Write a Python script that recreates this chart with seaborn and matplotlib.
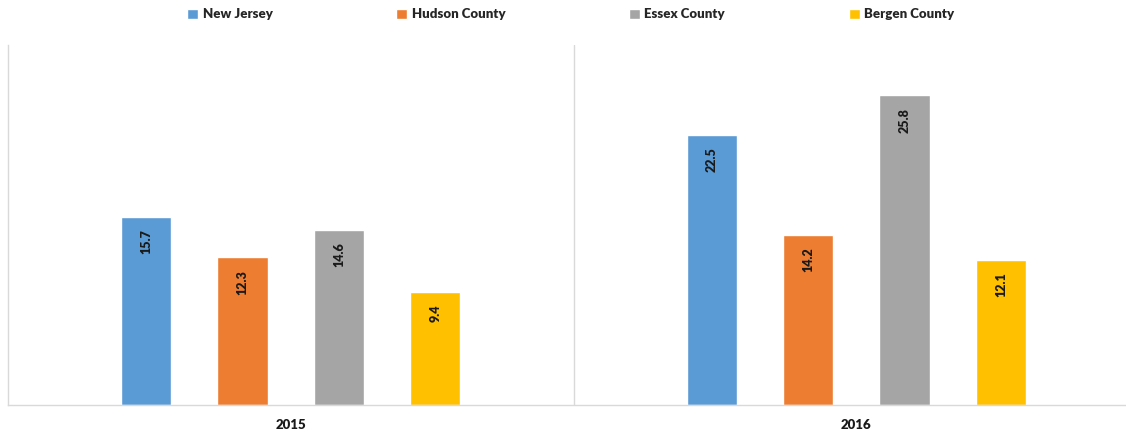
import numpy as np
import pandas as pd
import matplotlib
matplotlib.use('Agg')
import matplotlib.pyplot as plt
import seaborn as sns

years = ['2015', '2016']
regions = ['New Jersey', 'Hudson County', 'Essex County', 'Bergen County']
nj = [15.7, 22.5]
hudson = [12.3, 14.2]
essex = [14.6, 25.8]
bergen = [9.4, 12.1]
colors = ['#5B9BD5', '#ED7D31', '#A5A5A5', '#FFC000']

df = pd.DataFrame({
    'Year': years * 4,
    'Region': np.repeat(regions, 2),
    'Value': nj + hudson + essex + bergen,
})

sns.set_theme(style='white')
plt.rcParams['font.family'] = ['Lato', 'DejaVu Sans']
WEIGHT = 'heavy'

fig = plt.figure(figsize=(11.26, 4.37), dpi=100)
ax = fig.add_axes([8 / 1126, 32 / 437, 1131 / 1126, 360 / 437])

sns.barplot(data=df, x='Year', y='Value', hue='Region', hue_order=regions,
            palette=colors, width=0.682, gap=0.48, saturation=1,
            ax=ax, legend=True)

for cont in ax.containers:
    for bar in cont:
        h = bar.get_height()
        ax.annotate(f'{h:.1f}', (bar.get_x() + bar.get_width() / 2, h),
                    xytext=(0, -9), textcoords='offset points',
                    rotation=90, ha='center', va='top',
                    fontsize=9, fontweight=WEIGHT, color='#1a1a1a')

ax.set_xlim(-0.5, 1.5)
ax.set_ylim(0, 30)
ax.axvline(0.5, color='#d9d9d9', lw=1)
ax.set_yticks([])
ax.set_xlabel('')
ax.set_ylabel('')
ax.tick_params(axis='x', length=0, pad=10)
for lab in ax.get_xticklabels():
    lab.set_fontweight(WEIGHT)
    lab.set_fontsize(9.5)
    lab.set_color('#1a1a1a')
for s in ['top', 'right']:
    ax.spines[s].set_visible(False)
for s in ['left', 'bottom']:
    ax.spines[s].set_color('#d9d9d9')
    ax.spines[s].set_linewidth(1)

handles, labels = ax.get_legend_handles_labels()
ax.get_legend().remove()
leg = fig.legend(handles, labels, loc='upper center', bbox_to_anchor=(0.507, 1.008),
                 ncol=4, frameon=False, handlelength=0.8, handleheight=0.8,
                 handletextpad=0.35, columnspacing=9.4,
                 prop={'weight': WEIGHT, 'size': 9.5})

fig.savefig('out.png', dpi=100)
